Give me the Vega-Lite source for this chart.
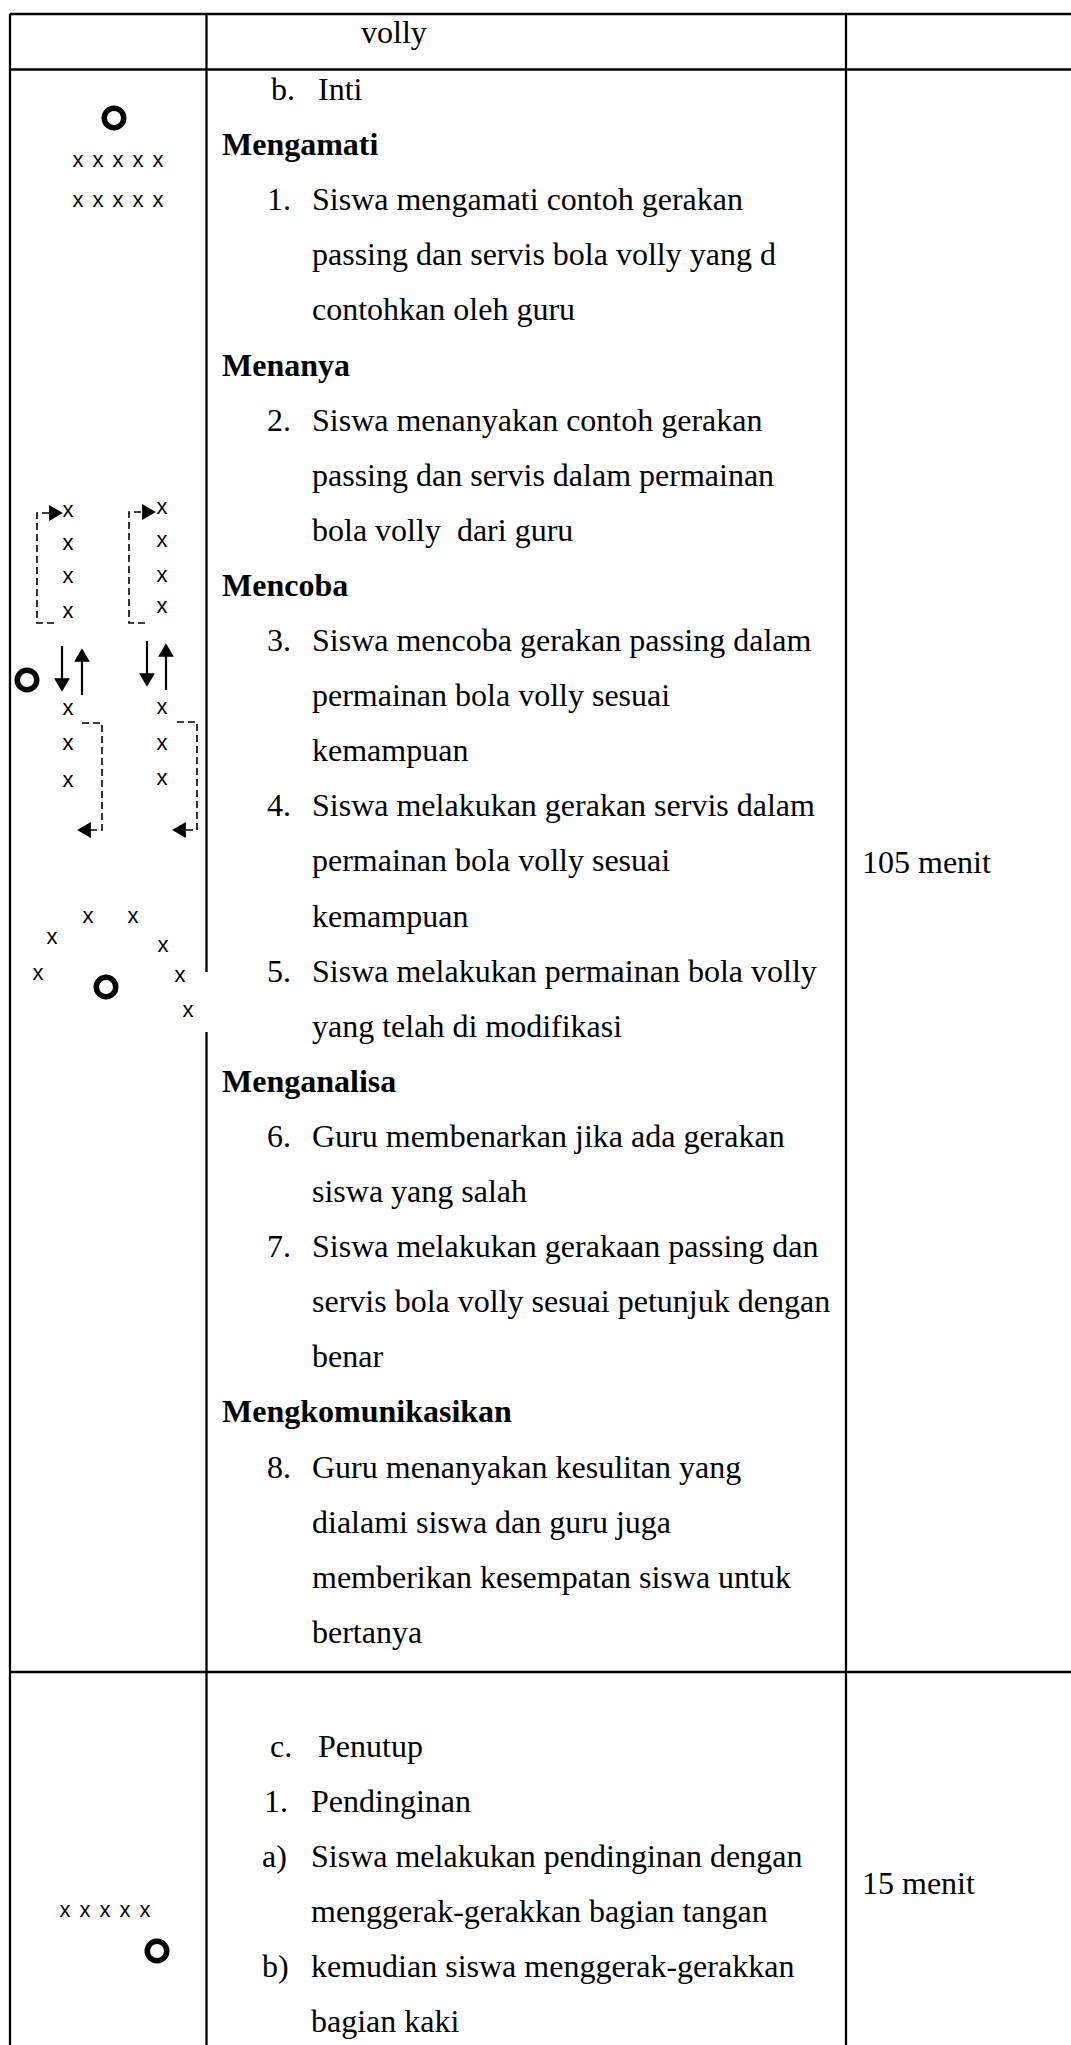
{
  "$schema": "https://vega.github.io/schema/vega-lite/v6.json",
  "width": 1071,
  "height": 2045,
  "padding": 0,
  "autosize": {"type": "none"},
  "background": "white",
  "config": {"view": {"stroke": null}},
  "datasets": {
    "grid": [
      {"px": 10, "py": 14, "px2": 1071, "py2": 14},
      {"px": 10, "py": 69.5, "px2": 1071, "py2": 69.5},
      {"px": 10, "py": 1672, "px2": 1071, "py2": 1672},
      {"px": 10, "py": 14, "px2": 10, "py2": 2045},
      {"px": 206.5, "py": 14, "px2": 206.5, "py2": 972},
      {"px": 206.5, "py": 1032, "px2": 206.5, "py2": 2045},
      {"px": 846, "py": 14, "px2": 846, "py2": 2045}
    ],
    "texts": [
      {"t": "volly", "px": 361, "py": 43, "w": "n"},
      {"t": "b.", "px": 271, "py": 100, "w": "n"},
      {"t": "Inti", "px": 318, "py": 100, "w": "n"},
      {"t": "Mengamati", "px": 222, "py": 155.1, "w": "b"},
      {"t": "1.", "px": 267, "py": 210.2, "w": "n"},
      {"t": "Siswa mengamati contoh gerakan", "px": 312, "py": 210.2, "w": "n"},
      {"t": "passing dan servis bola volly yang d", "px": 312, "py": 265.3, "w": "n"},
      {"t": "contohkan oleh guru", "px": 312, "py": 320.4, "w": "n"},
      {"t": "Menanya", "px": 222, "py": 375.5, "w": "b"},
      {"t": "2.", "px": 267, "py": 430.6, "w": "n"},
      {"t": "Siswa menanyakan contoh gerakan", "px": 312, "py": 430.6, "w": "n"},
      {"t": "passing dan servis dalam permainan", "px": 312, "py": 485.7, "w": "n"},
      {"t": "bola volly \u00a0dari guru", "px": 312, "py": 540.8, "w": "n"},
      {"t": "Mencoba", "px": 222, "py": 595.9, "w": "b"},
      {"t": "3.", "px": 267, "py": 651, "w": "n"},
      {"t": "Siswa mencoba gerakan passing dalam", "px": 312, "py": 651, "w": "n"},
      {"t": "permainan bola volly sesuai", "px": 312, "py": 706.1, "w": "n"},
      {"t": "kemampuan", "px": 312, "py": 761.2, "w": "n"},
      {"t": "4.", "px": 267, "py": 816.3, "w": "n"},
      {"t": "Siswa melakukan gerakan servis dalam", "px": 312, "py": 816.3, "w": "n"},
      {"t": "permainan bola volly sesuai", "px": 312, "py": 871.4, "w": "n"},
      {"t": "105 menit", "px": 862, "py": 873, "w": "n"},
      {"t": "kemampuan", "px": 312, "py": 926.5, "w": "n"},
      {"t": "5.", "px": 267, "py": 981.6, "w": "n"},
      {"t": "Siswa melakukan permainan bola volly", "px": 312, "py": 981.6, "w": "n"},
      {"t": "yang telah di modifikasi", "px": 312, "py": 1036.7, "w": "n"},
      {"t": "Menganalisa", "px": 222, "py": 1091.8, "w": "b"},
      {"t": "6.", "px": 267, "py": 1146.9, "w": "n"},
      {"t": "Guru membenarkan jika ada gerakan", "px": 312, "py": 1146.9, "w": "n"},
      {"t": "siswa yang salah", "px": 312, "py": 1202, "w": "n"},
      {"t": "7.", "px": 267, "py": 1257.1, "w": "n"},
      {"t": "Siswa melakukan gerakaan passing dan", "px": 312, "py": 1257.1, "w": "n"},
      {"t": "servis bola volly sesuai petunjuk dengan", "px": 312, "py": 1312.2, "w": "n"},
      {"t": "benar", "px": 312, "py": 1367.3, "w": "n"},
      {"t": "Mengkomunikasikan", "px": 222, "py": 1422.4, "w": "b"},
      {"t": "8.", "px": 267, "py": 1477.5, "w": "n"},
      {"t": "Guru menanyakan kesulitan yang", "px": 312, "py": 1477.5, "w": "n"},
      {"t": "dialami siswa dan guru juga", "px": 312, "py": 1532.6, "w": "n"},
      {"t": "memberikan kesempatan siswa untuk", "px": 312, "py": 1587.7, "w": "n"},
      {"t": "bertanya", "px": 312, "py": 1642.8, "w": "n"},
      {"t": "c.", "px": 270, "py": 1757, "w": "n"},
      {"t": "Penutup", "px": 318, "py": 1757, "w": "n"},
      {"t": "1.", "px": 264, "py": 1812, "w": "n"},
      {"t": "Pendinginan", "px": 311, "py": 1812, "w": "n"},
      {"t": "a)", "px": 262, "py": 1867, "w": "n"},
      {"t": "Siswa melakukan pendinginan dengan", "px": 311, "py": 1867, "w": "n"},
      {"t": "15 menit", "px": 862, "py": 1894, "w": "n"},
      {"t": "menggerak-gerakkan bagian tangan", "px": 311, "py": 1922, "w": "n"},
      {"t": "b)", "px": 262, "py": 1977, "w": "n"},
      {"t": "kemudian siswa menggerak-gerakkan", "px": 311, "py": 1977, "w": "n"},
      {"t": "bagian kaki", "px": 311, "py": 2032, "w": "n"}
    ],
    "players": [
      {"px": 78, "py": 167}, {"px": 98, "py": 167}, {"px": 118, "py": 167}, {"px": 138, "py": 167}, {"px": 158, "py": 167},
      {"px": 78, "py": 207}, {"px": 98, "py": 207}, {"px": 118, "py": 207}, {"px": 138, "py": 207}, {"px": 158, "py": 207},
      {"px": 68, "py": 517}, {"px": 68, "py": 550}, {"px": 68, "py": 583}, {"px": 68, "py": 618},
      {"px": 162, "py": 514}, {"px": 162, "py": 547}, {"px": 162, "py": 582}, {"px": 162, "py": 613},
      {"px": 68, "py": 715}, {"px": 68, "py": 750}, {"px": 68, "py": 787},
      {"px": 162, "py": 714}, {"px": 162, "py": 750}, {"px": 162, "py": 785},
      {"px": 88, "py": 923}, {"px": 133, "py": 923}, {"px": 52, "py": 944}, {"px": 163, "py": 952},
      {"px": 38, "py": 980}, {"px": 180, "py": 982}, {"px": 188, "py": 1017},
      {"px": 65, "py": 1917}, {"px": 85, "py": 1917}, {"px": 105, "py": 1917}, {"px": 125, "py": 1917}, {"px": 145, "py": 1917}
    ],
    "rings": [
      {"px": 114, "py": 118},
      {"px": 27, "py": 680},
      {"px": 106, "py": 987},
      {"px": 157, "py": 1951}
    ],
    "shafts": [
      {"px": 62, "py": 646, "py2": 680},
      {"px": 82, "py": 660, "py2": 695},
      {"px": 147, "py": 641, "py2": 675},
      {"px": 166, "py": 655, "py2": 690}
    ],
    "heads": [
      {"px": 62, "py": 685, "dir": "down"},
      {"px": 82, "py": 655, "dir": "up"},
      {"px": 147, "py": 680, "dir": "down"},
      {"px": 166, "py": 650, "dir": "up"},
      {"px": 56, "py": 513, "dir": "right"},
      {"px": 149, "py": 512, "dir": "right"},
      {"px": 84, "py": 830, "dir": "left"},
      {"px": 179, "py": 830, "dir": "left"}
    ],
    "dashes": [
      {"pid": "a", "ord": 1, "px": 49, "py": 513},
      {"pid": "a", "ord": 2, "px": 37, "py": 513},
      {"pid": "a", "ord": 3, "px": 37, "py": 623},
      {"pid": "a", "ord": 4, "px": 57, "py": 623},
      {"pid": "b", "ord": 1, "px": 141, "py": 512},
      {"pid": "b", "ord": 2, "px": 129, "py": 512},
      {"pid": "b", "ord": 3, "px": 129, "py": 623},
      {"pid": "b", "ord": 4, "px": 148, "py": 623},
      {"pid": "c", "ord": 1, "px": 82, "py": 723},
      {"pid": "c", "ord": 2, "px": 102, "py": 723},
      {"pid": "c", "ord": 3, "px": 102, "py": 830},
      {"pid": "c", "ord": 4, "px": 90, "py": 830},
      {"pid": "d", "ord": 1, "px": 177, "py": 722},
      {"pid": "d", "ord": 2, "px": 197, "py": 722},
      {"pid": "d", "ord": 3, "px": 197, "py": 830},
      {"pid": "d", "ord": 4, "px": 185, "py": 830}
    ]
  },
  "layer": [
    {
      "data": {"name": "grid"},
      "mark": {"type": "rule", "color": "black", "strokeWidth": 2.3},
      "encoding": {
        "x": {"field": "px", "type": "quantitative", "scale": {"domain": [0, 1071], "nice": false, "zero": false}, "axis": null},
        "y": {"field": "py", "type": "quantitative", "scale": {"domain": [0, 2045], "nice": false, "zero": false, "reverse": true}, "axis": null},
        "x2": {"field": "px2"},
        "y2": {"field": "py2"}
      }
    },
    {
      "data": {"name": "texts"},
      "transform": [{"filter": "datum.w === 'n'"}],
      "mark": {"type": "text", "font": "Liberation Serif", "fontSize": 32, "align": "left", "baseline": "alphabetic", "color": "black"},
      "encoding": {
        "x": {"field": "px", "type": "quantitative"},
        "y": {"field": "py", "type": "quantitative"},
        "text": {"field": "t"}
      }
    },
    {
      "data": {"name": "texts"},
      "transform": [{"filter": "datum.w === 'b'"}],
      "mark": {"type": "text", "font": "Liberation Serif", "fontSize": 32, "fontWeight": "bold", "align": "left", "baseline": "alphabetic", "color": "black"},
      "encoding": {
        "x": {"field": "px", "type": "quantitative"},
        "y": {"field": "py", "type": "quantitative"},
        "text": {"field": "t"}
      }
    },
    {
      "data": {"name": "players"},
      "mark": {"type": "text", "font": "Liberation Sans", "fontSize": 22, "align": "center", "baseline": "alphabetic", "color": "black", "text": "x"},
      "encoding": {
        "x": {"field": "px", "type": "quantitative"},
        "y": {"field": "py", "type": "quantitative"}
      }
    },
    {
      "data": {"name": "rings"},
      "mark": {"type": "point", "shape": "circle", "filled": false, "size": 380, "strokeWidth": 5.5, "color": "black", "opacity": 1},
      "encoding": {
        "x": {"field": "px", "type": "quantitative"},
        "y": {"field": "py", "type": "quantitative"}
      }
    },
    {
      "data": {"name": "shafts"},
      "mark": {"type": "rule", "color": "black", "strokeWidth": 2.2},
      "encoding": {
        "x": {"field": "px", "type": "quantitative"},
        "y": {"field": "py", "type": "quantitative"},
        "y2": {"field": "py2"}
      }
    },
    {
      "data": {"name": "dashes"},
      "mark": {"type": "line", "color": "black", "strokeWidth": 1.6, "strokeDash": [7, 4], "interpolate": "linear"},
      "encoding": {
        "x": {"field": "px", "type": "quantitative"},
        "y": {"field": "py", "type": "quantitative"},
        "detail": {"field": "pid", "type": "nominal"},
        "order": {"field": "ord", "type": "quantitative"}
      }
    },
    {
      "data": {"name": "heads"},
      "mark": {"type": "point", "filled": true, "size": 250, "color": "black", "opacity": 1, "strokeWidth": 0},
      "encoding": {
        "x": {"field": "px", "type": "quantitative"},
        "y": {"field": "py", "type": "quantitative"},
        "shape": {"field": "dir", "type": "nominal", "scale": {"domain": ["up", "down", "left", "right"], "range": ["triangle-up", "triangle-down", "triangle-left", "triangle-right"]}, "legend": null}
      }
    }
  ]
}
